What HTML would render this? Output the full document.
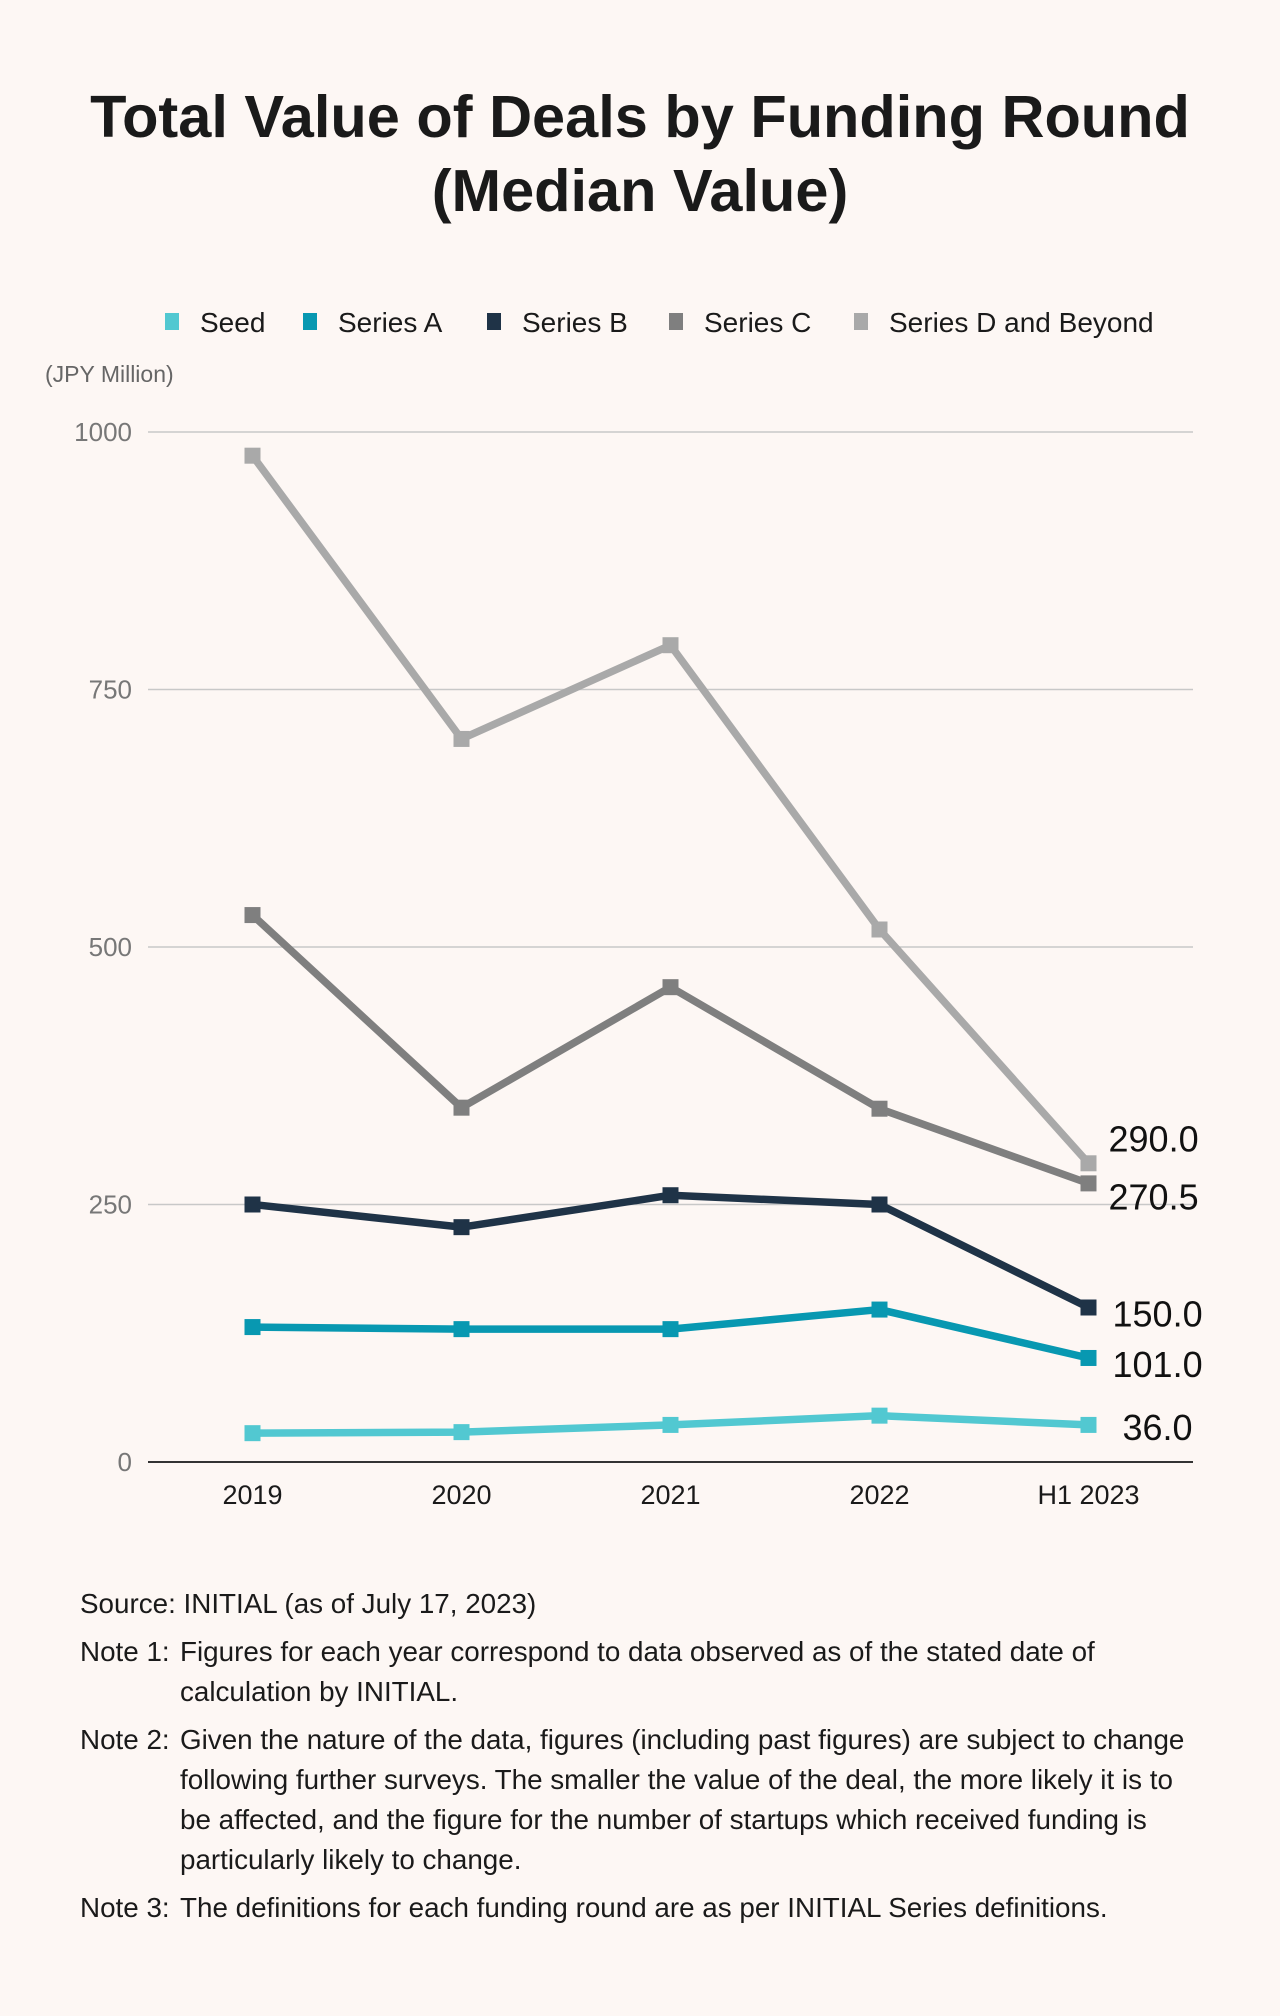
<!DOCTYPE html>
<html><head><meta charset="utf-8">
<style>
html,body{margin:0;padding:0;background:#fdf7f4;}
body{width:1280px;height:2016px;position:relative;font-family:"Liberation Sans",sans-serif;color:#1a1a1a;overflow:hidden;}
.title{position:absolute;left:0;top:80px;width:1280px;text-align:center;font-weight:bold;font-size:59.5px;line-height:74px;color:#1a1a1a;}
.notes{position:absolute;left:80px;top:1584px;font-size:27.8px;color:#1a1a1a;}
.note{display:flex;margin-bottom:8px;line-height:40px;white-space:nowrap;}
.note .k{width:100px;flex:none;}
.note .v{width:1100px;}
</style></head>
<body>
<div class="title">Total Value of Deals by Funding Round<br>(Median Value)</div>
<svg id="chart" width="1280" height="1560" style="position:absolute;left:0;top:0"></svg>
<div class="notes">
 <div class="note"><span class="k" style="width:auto">Source: INITIAL (as of July 17, 2023)</span></div>
 <div class="note"><span class="k">Note 1:</span><span class="v">Figures for each year correspond to data observed as of the stated date of<br>calculation by INITIAL.</span></div>
 <div class="note"><span class="k">Note 2:</span><span class="v">Given the nature of the data, figures (including past figures) are subject to change<br>following further surveys. The smaller the value of the deal, the more likely it is to<br>be affected, and the figure for the number of startups which received funding is<br>particularly likely to change.</span></div>
 <div class="note"><span class="k">Note 3:</span><span class="v">The definitions for each funding round are as per INITIAL Series definitions.</span></div>
</div>
<script>
const categories = ["2019","2020","2021","2022","H1 2023"];
const seriesNames = ["Seed","Series A","Series B","Series C","Series D and Beyond"];
const seedValues = [28,29,36,45,36];
const seriesAValues = [131,129,129,148,101];
const seriesBValues = [250,228,259,250,150];
const seriesCValues = [531,344,461,343,270.5];
const seriesDValues = [977,702,793,517,290];
const yTicks = [0,250,500,750,1000];
const lastLabels = ["36.0","101.0","150.0","270.5","290.0"];

const colors = ["#52c8d1","#0898b1","#1f3347","#7f7f7f","#a9a9a9"];
const allSeries = [seedValues,seriesAValues,seriesBValues,seriesCValues,seriesDValues];
const svg = document.getElementById('chart');
const NS = "http://www.w3.org/2000/svg";
const X0 = 148, X1 = 1193, Y0 = 1462, Y1000 = 432;
function xPos(i){ const bw=(X1-X0)/categories.length; return X0+bw*(i+0.5); }
function yPos(v){ return Y0-(v/1000)*(Y0-Y1000); }
function mk(tag, attrs){ const e=document.createElementNS(NS,tag); for(const k in attrs) e.setAttribute(k,attrs[k]); svg.appendChild(e); return e; }

// legend
const legX = [200,338,522,704,889];
seriesNames.forEach((n,i)=>{
  const r = mk('rect',{x:legX[i]-35,y:313,width:14,height:17,fill:colors[i]});
  
  
  const t = mk('text',{x:legX[i],y:332,'font-size':28,fill:'#1a1a1a','font-family':'Liberation Sans, sans-serif'});
  t.textContent=n;
  
  
});
const u = mk('text',{x:45,y:382,'font-size':23,fill:'#666','font-family':'Liberation Sans, sans-serif'});
u.textContent='(JPY Million)';



// grid + ticks
yTicks.forEach(v=>{
  const y=yPos(v);
  const l = mk('line',{x1:X0,x2:X1,y1:y,y2:y,stroke:v===0?'#333':'#c8c8c8','stroke-width':v===0?2:1.5});
  
  
  const t = mk('text',{x:132,y:y+9,'text-anchor':'end','font-size':26,fill:'#777','font-family':'Liberation Sans, sans-serif'});
  t.textContent=v;
  
  
});
categories.forEach((c,i)=>{
  const t = mk('text',{x:xPos(i),y:1504,'text-anchor':'middle','font-size':27,fill:'#1a1a1a','font-family':'Liberation Sans, sans-serif'});
  t.textContent=c;
  
  
});

// series
for(let s=allSeries.length-1;s>=0;s--){
  const vals=allSeries[s];
  const pts=vals.map((v,i)=>xPos(i)+','+yPos(v)).join(' ');
  const pl = mk('polyline',{points:pts,fill:'none',stroke:colors[s],'stroke-width':7.5,'stroke-linejoin':'round'});
  
  
  vals.forEach((v,i)=>{
    const r = mk('rect',{x:xPos(i)-8,y:yPos(v)-8,width:16,height:16,fill:colors[s]});
    
    
  });
}
// end labels
const labelOffsets=[15,19,19,26,-12];
const labelDx=[34,24,24,20,20];
allSeries.forEach((vals,s)=>{
  const v=vals[vals.length-1];
  const t = mk('text',{x:xPos(4)+labelDx[s],y:yPos(v)+labelOffsets[s],'font-size':36,fill:'#111','font-family':'Liberation Sans, sans-serif'});
  t.textContent=lastLabels[s];
  
  
});
</script>
</body></html>
